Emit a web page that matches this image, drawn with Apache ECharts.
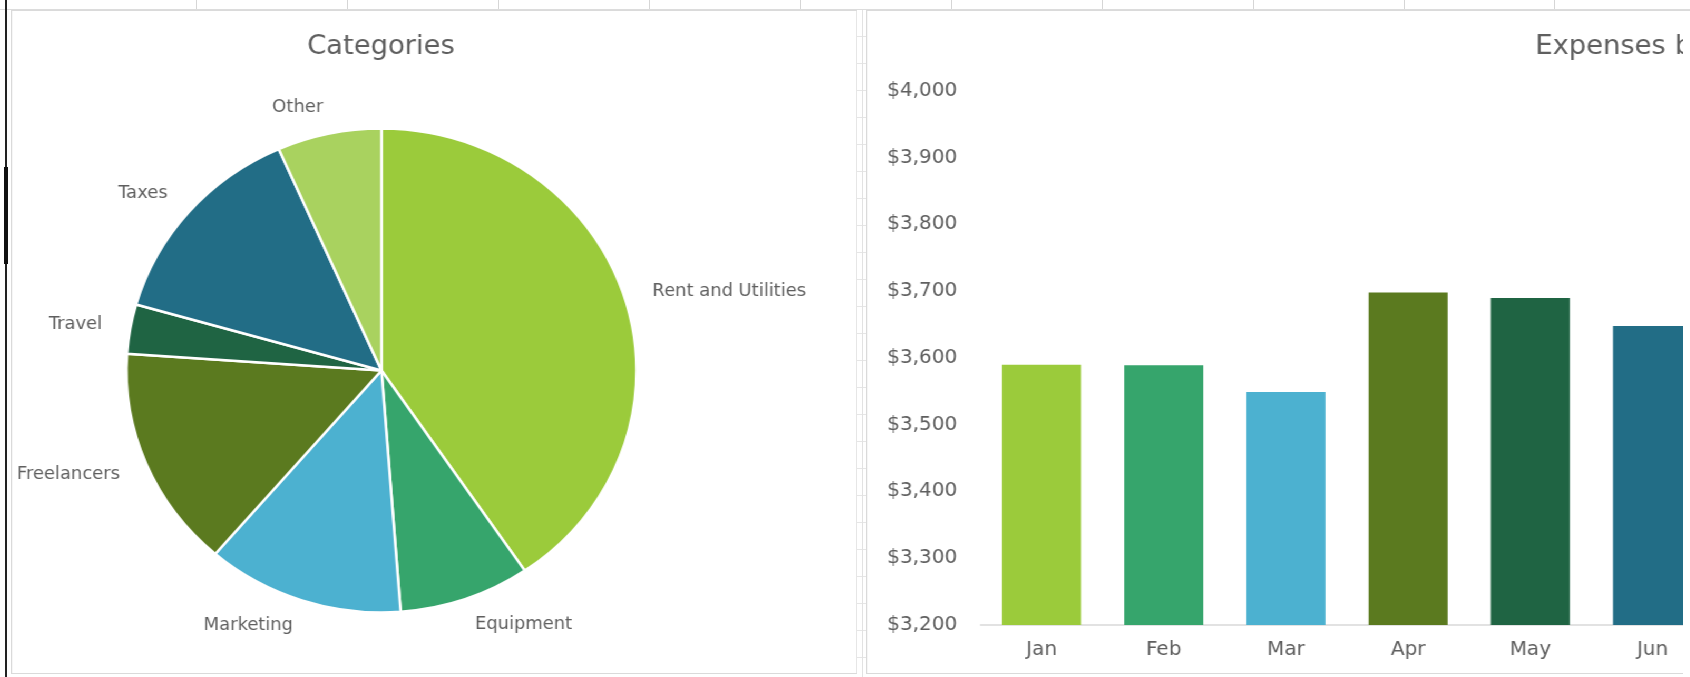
<!DOCTYPE html>
<html><head><meta charset="utf-8">
<script src="https://cdn.jsdelivr.net/npm/echarts@6.0.0/dist/echarts.min.js"></script>
<style>
html,body{margin:0;padding:0;width:1690px;height:677px;overflow:hidden;background:#fff;}
.vline{position:absolute;top:0;height:9px;width:1px;background:#d6d6d6;}
#topline{position:absolute;left:0;top:9px;width:1690px;height:1px;background:#dcdcdc;}
#blk{position:absolute;left:5px;top:0;width:2px;height:677px;background:#222;}
#blk2{position:absolute;left:4px;top:167px;width:4px;height:97px;background:#111;}
#gap{position:absolute;left:857px;top:10px;width:9px;height:667px;background:repeating-linear-gradient(to bottom, transparent 0, transparent 26px, #e6e6e6 26px, #e6e6e6 27px);}
#gapline{position:absolute;left:862px;top:10px;width:1px;height:667px;background:#e2e2e2;}
#pie{position:absolute;left:11px;top:10px;width:803px;height:664px;border:1px solid #dadada;box-sizing:border-box;transform:scaleX(1.054);transform-origin:0 0;}
#bar{position:absolute;left:866px;top:10px;width:860px;height:664px;border:1px solid #dadada;box-sizing:border-box;transform:scaleX(1.054);transform-origin:0 0;}
#edge{position:absolute;left:1683px;top:11px;width:7px;height:666px;background:#fff;}
</style></head>
<body>
<div id="topline"></div>
<div id="cells"></div>
<div id="blk"></div><div id="blk2"></div>
<div id="gap"></div><div id="gapline"></div>
<div id="pie"></div>
<div id="bar"></div>
<div id="edge"></div>
<script>
// ---- data ----
var pieCategories = ['Rent and Utilities', 'Equipment', 'Marketing', 'Freelancers', 'Travel', 'Taxes', 'Other'];
var pieValues = [40.5, 8.3, 12.5, 14.8, 3.3, 14.0, 6.6];
var pieColors = ['#9BCB3B', '#36A56C', '#4CB1D0', '#5B7A1F', '#1F6443', '#226D86', '#A9D25F'];

var months = ['Jan', 'Feb', 'Mar', 'Apr', 'May', 'Jun'];
var monthValues = [3590, 3589, 3549, 3698, 3690, 3648];
var barColors = ['#9BCB3B', '#36A56C', '#4CB1D0', '#5B7A1F', '#1F6443', '#226D86'];

var yMin = 3200, yMax = 4000, yStep = 100;

// ---- spreadsheet cell lines (decoration) ----
var cellXs = [196, 347, 498, 649, 800, 951, 1102, 1253, 1404, 1554];
var cells = document.getElementById('cells');
cellXs.forEach(function (x) {
  var d = document.createElement('div');
  d.className = 'vline';
  d.style.left = x + 'px';
  cells.appendChild(d);
});

var FONT = 'DejaVu Sans';
var TXT = '#5f5f5f';

// ---- pie ----
var pie = echarts.init(document.getElementById('pie'));
pie.setOption({
  animation: false,
  title: {
    text: 'Categories', left: 350, top: 23, padding: 0, textAlign: 'center',
    textStyle: { fontFamily: FONT, fontSize: 26, fontWeight: 'normal', color: TXT }
  },
  series: [{
    type: 'pie',
    center: [350.5, 359.5],
    radius: 242,
    startAngle: 90,
    clockwise: true,
    avoidLabelOverlap: false,
    itemStyle: { borderColor: '#ffffff', borderWidth: 2.5 },
    label: {
      show: true, position: 'outside', fontFamily: FONT, fontSize: 17, color: TXT,
      distanceToLabelLine: 0
    },
    labelLine: { show: false, length: 27, length2: 0 },
    emphasis: { disabled: true },
    data: pieCategories.map(function (n, i) {
      return { name: n, value: pieValues[i], itemStyle: { color: pieColors[i] } };
    })
  }]
});

// ---- bar ----
var bar = echarts.init(document.getElementById('bar'));
bar.setOption({
  animation: false,
  title: {
    text: 'Expenses by Month', left: 634, top: 23, padding: 0,
    textStyle: { fontFamily: FONT, fontSize: 26, fontWeight: 'normal', color: TXT }
  },
  grid: { left: 107.6, top: 80, width: 695.6, bottom: 48, containLabel: false },
  xAxis: {
    type: 'category', data: months,
    axisLine: { show: true, lineStyle: { color: '#d9d9d9', width: 1.5 } },
    axisTick: { show: false },
    axisLabel: { fontFamily: FONT, fontSize: 19, color: TXT, margin: 16 }
  },
  yAxis: {
    type: 'value', min: yMin, max: yMax, interval: yStep,
    axisLine: { show: false }, axisTick: { show: false },
    splitLine: { show: false },
    axisLabel: {
      fontFamily: FONT, fontSize: 19, color: TXT, margin: 22,
      formatter: function (v) { return '$' + v.toLocaleString('en-US'); }
    }
  },
  series: [{
    type: 'bar', barWidth: 75,
    data: monthValues.map(function (v, i) {
      return { value: v, itemStyle: { color: barColors[i] } };
    })
  }]
});
</script>
</body></html>
